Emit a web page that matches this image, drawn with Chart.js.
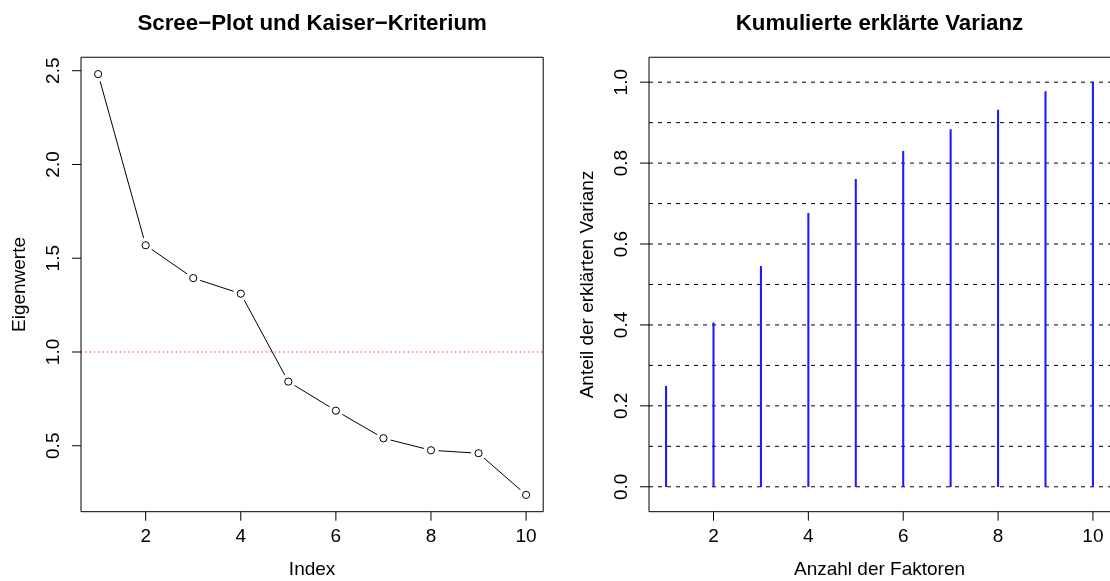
<!DOCTYPE html>
<html><head><meta charset="utf-8">
<script src="https://cdn.jsdelivr.net/npm/chart.js@4.4.1/dist/chart.umd.min.js"></script>
<style>
html,body{margin:0;padding:0;background:#fff;overflow:hidden;}
#wrap{position:relative;width:1110px;height:581px;}
.panel{position:absolute;top:0;width:555px;height:581px;}
canvas{display:block;}
</style></head><body>
<div id="wrap">
  <div class="panel" style="left:0"><canvas id="c1" width="555" height="581"></canvas></div>
  <div class="panel" style="left:555px"><canvas id="c2" width="555" height="581"></canvas></div>
</div>
<script>
// ---------------- data ----------------
const factorIndex = [1, 2, 3, 4, 5, 6, 7, 8, 9, 10];
const eigenvalues = [2.482, 1.569, 1.394, 1.311, 0.842, 0.687, 0.540, 0.476, 0.460, 0.238];
const cumulativeVariance = [0.248, 0.405, 0.545, 0.676, 0.760, 0.829, 0.883, 0.931, 0.977, 1.000];
const xTickValues = [2, 4, 6, 8, 10];
const eigenTickValues = [0.5, 1.0, 1.5, 2.0, 2.5];
const varianceTickValues = [0.0, 0.2, 0.4, 0.6, 0.8, 1.0];
const varianceRefLines = [0.0, 0.1, 0.2, 0.3, 0.4, 0.5, 0.6, 0.7, 0.8, 0.9, 1.0];
const varianceLimits = [-0.02, 1.02];
const kaiserThreshold = 1;
const chartTitles = ['Scree\u2212Plot und Kaiser\u2212Kriterium', 'Kumulierte erklärte Varianz'];
const xAxisTitles = ['Index', 'Anzahl der Faktoren'];
const yAxisTitles = ['Eigenwerte', 'Anteil der erklärten Varianz'];

// ---------------- helpers ----------------
const FAMILY = "'Liberation Sans', Arial, Helvetica, sans-serif";
const tickFont = {family: FAMILY, size: 19, lineHeight: 1.2};
const titleFont = {family: FAMILY, size: 22.3, weight: 'bold', lineHeight: 1.2};
function rRange(lo, hi) { const d = (hi - lo) * 0.04; return [lo - d, hi + d]; }
const xRange = rRange(Math.min(...factorIndex), Math.max(...factorIndex));
const eigRange = rRange(Math.min(...eigenvalues), Math.max(...eigenvalues));
const varRange = rRange(varianceLimits[0], varianceLimits[1]);

function framePlugin(opt) {
  return {
    id: 'rframe_' + opt.id,
    beforeDatasetsDraw(chart) {
      const {ctx, chartArea: a, scales: {y}} = chart;
      ctx.save();
      if (opt.refLines) {
        ctx.strokeStyle = '#000'; ctx.lineWidth = 1; ctx.setLineDash([4, 5]);
        opt.refLines.forEach(v => {
          const py = y.getPixelForValue(v);
          ctx.beginPath(); ctx.moveTo(a.left, py); ctx.lineTo(a.right + 5, py); ctx.stroke();
        });
      }
      if (opt.hline != null) {
        ctx.strokeStyle = 'rgb(255,40,40)'; ctx.lineWidth = 1; ctx.setLineDash([1.4, 2.9]);
        const py = y.getPixelForValue(opt.hline);
        ctx.beginPath(); ctx.moveTo(a.left, py); ctx.lineTo(a.right, py); ctx.stroke();
      }
      ctx.restore();
    },
    afterDraw(chart) {
      const {ctx, chartArea: a, scales: {x, y}} = chart;
      ctx.save();
      ctx.setLineDash([]); ctx.strokeStyle = '#000'; ctx.lineWidth = 1;
      ctx.beginPath();
      ctx.moveTo(a.right, a.top); ctx.lineTo(a.left, a.top); ctx.lineTo(a.left, a.bottom); ctx.lineTo(a.right, a.bottom);
      if (opt.rightBorder) ctx.lineTo(a.right, a.top);
      ctx.stroke();
      ctx.beginPath();
      opt.xTicks.forEach(v => { const px = x.getPixelForValue(v); ctx.moveTo(px, a.bottom); ctx.lineTo(px, a.bottom + 9); });
      opt.yTicks.forEach(v => { const py = y.getPixelForValue(v); ctx.moveTo(a.left, py); ctx.lineTo(a.left - 9, py); });
      ctx.stroke();
      ctx.restore();
    }
  };
}

function zeroPad(s) { s.paddingLeft = 0; s.paddingRight = 0; s.paddingTop = 0; s.paddingBottom = 0; }

function scalesFor(yMin, yMax, yTicks, xTitle, yTitle, yAxisWidth, yTitlePad) {
  return {
    x: {
      type: 'linear', min: xRange[0], max: xRange[1], offset: false,
      afterBuildTicks: s => { s.ticks = xTickValues.map(v => ({value: v})); },
      grid: {display: false, drawTicks: false, offset: false}, border: {display: false},
      ticks: {font: tickFont, color: '#000', padding: 13.3, maxRotation: 0, minRotation: 0, autoSkip: false,
              callback: v => String(v)},
      title: {display: true, text: xTitle, font: tickFont, color: '#000', padding: {top: 0, bottom: 0}},
      afterFit: s => { s.height = 69.3; zeroPad(s); }
    },
    y: {
      type: 'linear', min: yMin, max: yMax,
      afterBuildTicks: s => { s.ticks = yTicks.map(v => ({value: v})); },
      grid: {display: false, drawTicks: false}, border: {display: false},
      ticks: {font: tickFont, color: '#000', padding: 13.8, minRotation: 90, maxRotation: 90, crossAlign: 'center',
              autoSkip: false, callback: v => Number(v).toFixed(1)},
      title: {display: true, text: yTitle, font: tickFont, color: '#000', padding: {top: yTitlePad, bottom: 0}},
      afterFit: s => { s.width = yAxisWidth; zeroPad(s); }
    }
  };
}

const common = {
  responsive: false, animation: false, devicePixelRatio: 1,
};
function titleOpt(text) {
  return {display: true, fullSize: false, text: text, font: titleFont, color: '#000', padding: {top: 10.6, bottom: 19.9}};
}

// ---------------- left chart: scree plot ----------------
const screePoints = factorIndex.map((f, i) => ({x: f, y: eigenvalues[i]}));
new Chart(document.getElementById('c1'), {
  type: 'scatter',
  data: {datasets: [
    {data: screePoints, showLine: false, pointRadius: 3.6, pointStyle: 'circle', pointBorderColor: '#000',
     pointBackgroundColor: 'rgba(0,0,0,0)', pointBorderWidth: 1, order: 1},
    {data: screePoints, showLine: false, pointRadius: 7.5, pointBorderWidth: 0,
     pointBackgroundColor: '#fff', pointBorderColor: '#fff', order: 2},
    {data: screePoints, showLine: true, borderColor: '#000', borderWidth: 1, pointRadius: 0, order: 3}
  ]},
  options: Object.assign({}, common, {
    layout: {padding: {left: 0, right: 555 - 543.2, top: 0, bottom: 0}},
    plugins: {legend: {display: false}, tooltip: {enabled: false}, title: titleOpt(chartTitles[0])},
    scales: scalesFor(eigRange[0], eigRange[1], eigenTickValues, xAxisTitles[0], yAxisTitles[0], 81, 8.6)
  }),
  plugins: [framePlugin({id: 'l', hline: kaiserThreshold, xTicks: xTickValues, yTicks: eigenTickValues, rightBorder: true})]
});

// ---------------- right chart: cumulative variance ----------------
const varPoints = factorIndex.map((f, i) => ({x: f, y: cumulativeVariance[i]}));
new Chart(document.getElementById('c2'), {
  type: 'bar',
  data: {datasets: [
    {data: varPoints, backgroundColor: '#1a1aff', borderWidth: 0, barThickness: 1.4, grouped: false}
  ]},
  options: Object.assign({}, common, {
    layout: {padding: {left: 0, right: 0, top: 0, bottom: 0}},
    plugins: {legend: {display: false}, tooltip: {enabled: false}, title: titleOpt(chartTitles[1])},
    scales: scalesFor(varRange[0], varRange[1], varianceTickValues, xAxisTitles[1], yAxisTitles[1], 94, 21.6)
  }),
  plugins: [framePlugin({id: 'r', refLines: varianceRefLines, xTicks: xTickValues, yTicks: varianceTickValues, rightBorder: false})]
});
</script>
</body></html>
